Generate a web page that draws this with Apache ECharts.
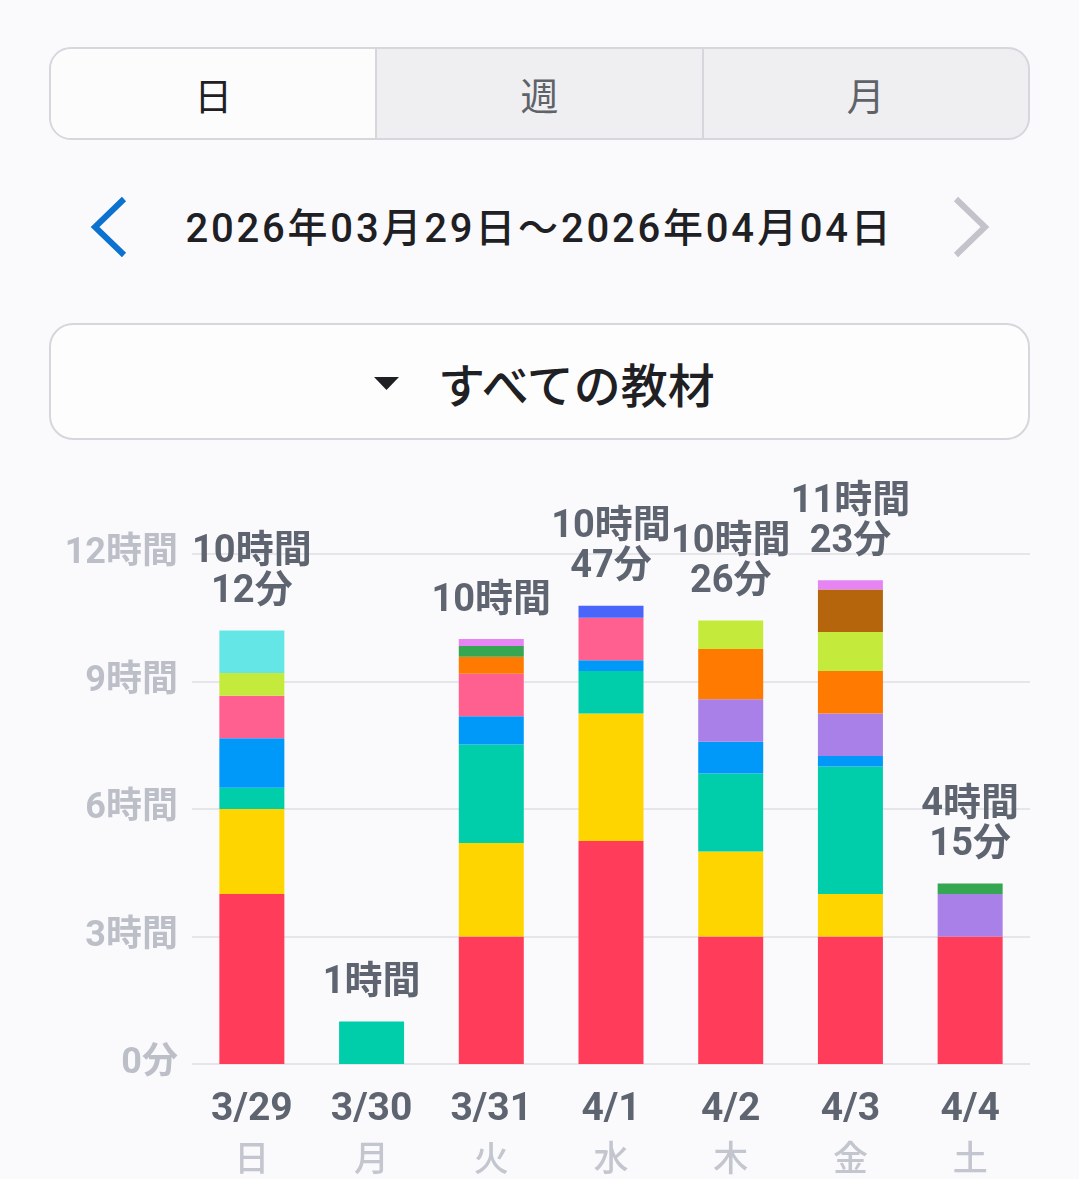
<!DOCTYPE html>
<html><head><meta charset="utf-8">
<script src="https://cdn.jsdelivr.net/npm/echarts@6/dist/echarts.min.js"></script>
<style>
html,body{margin:0;padding:0;background:#FAFAFC;width:1079px;height:1179px;overflow:hidden;font-family:Roboto,"Noto Sans CJK JP",sans-serif;}
#seg{position:absolute;left:49px;top:47px;width:977px;height:89px;border:2px solid #D6D7DC;border-radius:22px;overflow:hidden;display:flex;background:#EFEFF2;}
#seg div{flex:1;display:flex;align-items:center;justify-content:center;font-size:38px;color:#5F6368;font-family:"Noto Sans CJK JP",sans-serif;}
#seg div.on{background:#FCFCFD;color:#1F2024;}
#seg div+div{border-left:2px solid #D6D7DC;}
#date{position:absolute;left:0;width:1079px;top:200px;height:58px;text-align:center;line-height:58px;font-size:40px;letter-spacing:2.8px;font-weight:500;color:#1F2024;font-family:Roboto,"Noto Sans CJK JP",sans-serif;}
#dd{position:absolute;left:49px;top:323px;width:977px;height:113px;border:2px solid #D6D7DC;border-radius:24px;background:#FDFDFE;}
#ddt{position:absolute;left:438px;top:352px;font-size:47px;line-height:62px;color:#1F2024;font-family:"Noto Sans CJK JP",sans-serif;font-weight:500;}
#chart{position:absolute;left:0;top:470px;width:1079px;height:709px;}
#icons{position:absolute;left:0;top:0;z-index:2;}
</style></head><body>
<div id="seg"><div class="on">日</div><div>週</div><div>月</div></div>
<div id="date">2026年03月29日～2026年04月04日</div>
<div id="dd"></div>
<div id="ddt">すべての教材</div>
<svg id="icons" width="1079" height="470">
<polyline points="124,199 95,227 124,255" fill="none" stroke="#0B72CF" stroke-width="6"/>
<polyline points="956,199 985,227 956,255" fill="none" stroke="#C2C3CB" stroke-width="6"/>
<polygon points="374,377 399,377 386.5,390" fill="#1F2024"/>
</svg>
<div id="chart"></div>
<script>
const categories = ['3/29','3/30','3/31','4/1','4/2','4/3','4/4'];
const weekdays = ['日','月','火','水','木','金','土'];
// minutes per material (stack order bottom to top)
const red    = [240, 0, 180, 315, 180, 180, 180];
const yellow = [120, 0, 132, 180, 120, 60, 0];
const teal   = [30, 60, 139, 60, 110, 180, 0];
const blue   = [70, 0, 40, 15, 45, 15, 0];
const purple = [0, 0, 0, 0, 60, 60, 60];
const pink   = [60, 0, 60, 60, 0, 0, 0];
const orange = [0, 0, 24, 0, 71, 60, 0];
const lime   = [32, 0, 0, 0, 40, 55, 0];
const green  = [0, 0, 15, 0, 0, 0, 15];
const cyan   = [60, 0, 0, 0, 0, 0, 0];
const brown  = [0, 0, 0, 0, 0, 60, 0];
const violet = [0, 0, 10, 0, 0, 13, 0];
const indigo = [0, 0, 0, 17, 0, 0, 0];
const yTicks = [0, 180, 360, 540, 720];

const layers = [
  [red,'#FF3D5A'],[yellow,'#FFD500'],[teal,'#00CDAA'],[blue,'#0099FA'],
  [purple,'#A97FE8'],[pink,'#FF6090'],[orange,'#FF7A00'],[lime,'#C4EA3C'],
  [green,'#35A652'],[cyan,'#64E6E6'],[brown,'#B5650B'],[violet,'#E584F2'],[indigo,'#4A66FA']
];
const totals = categories.map((c,i)=>layers.reduce((s,l)=>s+l[0][i],0));
function fmtTotal(m){const h=Math.floor(m/60),mm=m%60;return mm?h+'時間\n'+mm+'分':h+'時間';}

const series = layers.map(([d,c])=>({type:'bar',stack:'t',data:d,barWidth:65,itemStyle:{color:c},silent:true}));
series.push({type:'bar',stack:'t',data:categories.map(()=>0),barWidth:65,silent:true,
  label:{show:true,position:'top',distance:18,formatter:p=>fmtTotal(totals[p.dataIndex]),
    fontSize:38,lineHeight:40,fontWeight:'bold',color:'#5F6570',fontFamily:'Roboto, "Noto Sans CJK JP"'}});

const chart = echarts.init(document.getElementById('chart'),null,{renderer:'canvas'});
chart.setOption({
  animation:false,
  grid:{left:192,right:49,top:84,bottom:115},
  xAxis:{type:'category',data:categories,axisTick:{show:false},axisLine:{show:false},
    axisLabel:{margin:22,formatter:(v,i)=>'{d|'+v+'}\n{w|'+weekdays[i]+'}',
      rich:{d:{fontSize:39,fontWeight:'bold',color:'#5F6570',lineHeight:48,fontFamily:'Roboto, "Noto Sans CJK JP"'},
            w:{fontSize:35,fontWeight:500,color:'#C3C6CE',lineHeight:48,fontFamily:'"Noto Sans CJK JP"'}}}},
  yAxis:{type:'value',min:yTicks[0],max:yTicks[yTicks.length-1],interval:yTicks[1]-yTicks[0],
    axisLabel:{margin:14,fontSize:36,fontWeight:'bold',color:'#BCBFC8',fontFamily:'Roboto, "Noto Sans CJK JP"',
      padding:[8,0,0,0],formatter:v=>v===0?'0分':(v/60)+'時間'},
    splitLine:{lineStyle:{color:'#E6E6EA',width:2}}},
  series:series
});
</script>
</body></html>
